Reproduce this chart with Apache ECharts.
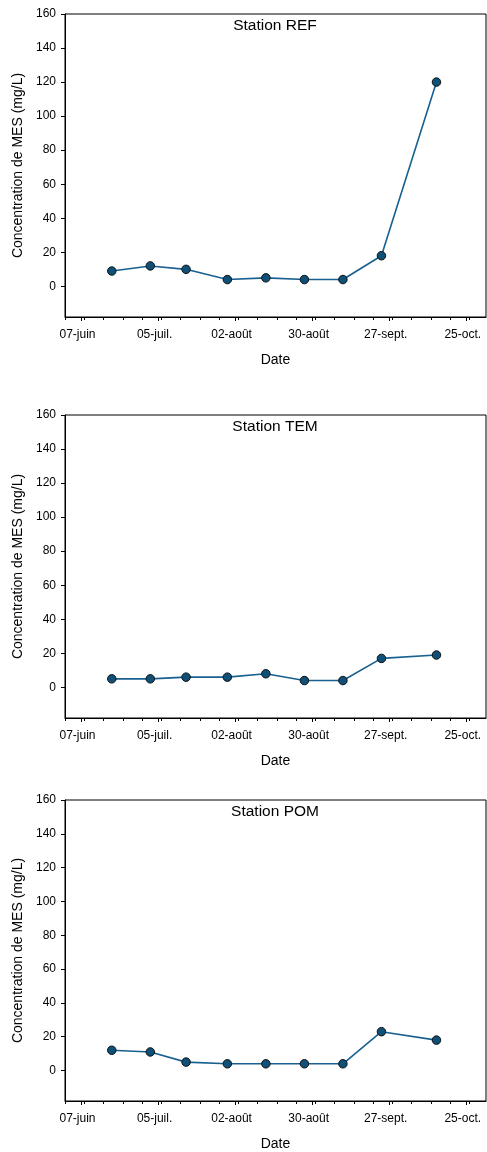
<!DOCTYPE html>
<html>
<head>
<meta charset="utf-8">
<script src="https://cdn.jsdelivr.net/npm/echarts@6/dist/echarts.min.js"></script>
<style>
  html, body { margin: 0; padding: 0; background: #fff; }
  #chart { width: 487px; height: 1152px; }
</style>
</head>
<body>
<div id="chart"></div>
<script>
// Sampling dates (same for every station)
const sampleDates = ['2021-06-18', '2021-07-02', '2021-07-15', '2021-07-30', '2021-08-13',
                     '2021-08-27', '2021-09-10', '2021-09-24', '2021-10-14'];

// Suspended solids (MES) concentration, mg/L
const stationNames = ['Station REF', 'Station TEM', 'Station POM'];
const mesREF = [9, 12, 10, 4, 5, 4, 4, 18, 120];
const mesTEM = [5, 5, 6, 6, 8, 4, 4, 17, 19];
const mesPOM = [12, 11, 5, 4, 4, 4, 4, 23, 18];

// Axis ticks and labels
const xTickDates = ['2021-06-07', '2021-07-05', '2021-08-02', '2021-08-30', '2021-09-27', '2021-10-25'];
const xTickLabels = ['07-juin', '05-juil.', '02-août', '30-août', '27-sept.', '25-oct.'];
const yTicks = [0, 20, 40, 60, 80, 100, 120, 140, 160];
const xStart = '2021-06-01';
const xEnd = '2021-11-01';
const yMin = -18, yMax = 160;

const DAY = 86400000;
const ts = s => { const [y, m, d] = s.split('-').map(Number); return Date.UTC(y, m - 1, d); };
const xMin = ts(xStart), xMax = ts(xEnd);
const majorTicks = xTickDates.map(ts);
const labelByTs = {};
majorTicks.forEach((t, i) => { labelByTs[t] = xTickLabels[i]; });
const weeklyTicks = [];
for (let t = xMin; t <= xMax; t += 7 * DAY) weeklyTicks.push(t);

const seriesValues = [mesREF, mesTEM, mesPOM];
const FONT = "'Liberation Sans', Arial, sans-serif";
const gridTops = [14, 415, 800];
const plotH = 303;

const grids = [], xAxes = [], yAxes = [], series = [], titles = [];
gridTops.forEach((top, i) => {
  grids.push({
    left: 65, right: 1, top: top, height: plotH,
    show: true, borderColor: '#000', borderWidth: 1, backgroundColor: 'transparent'
  });
  // main date axis: 4-week ticks with labels
  xAxes.push({
    type: 'value', gridIndex: i, position: 'bottom', min: xMin, max: xMax,
    name: 'Date', nameLocation: 'middle', nameGap: 36,
    nameTextStyle: { fontFamily: FONT, fontSize: 14, color: '#000' },
    axisLine: { show: true, onZero: false, lineStyle: { color: '#000', width: 1 } },
    axisTick: { show: true, inside: false, length: 4, customValues: majorTicks,
                lineStyle: { color: '#000', width: 1 } },
    axisLabel: { show: true, customValues: majorTicks, margin: 12, padding: [0, 8, 0, 0],
                 fontFamily: FONT, fontSize: 12, color: '#000',
                 formatter: v => labelByTs[v] || '' },
    splitLine: { show: false }
  });
  // weekly minor ticks
  xAxes.push({
    type: 'value', gridIndex: i, position: 'bottom', min: xMin, max: xMax,
    axisLine: { show: false, onZero: false },
    axisTick: { show: true, inside: false, length: 3, customValues: weeklyTicks,
                lineStyle: { color: '#000', width: 1 } },
    axisLabel: { show: false },
    splitLine: { show: false }
  });
  yAxes.push({
    type: 'value', gridIndex: i, min: yMin, max: yMax,
    name: 'Concentration de MES (mg/L)', nameLocation: 'middle', nameGap: 40,
    nameTextStyle: { fontFamily: FONT, fontSize: 14, color: '#000' },
    axisLine: { show: true, onZero: false, lineStyle: { color: '#000', width: 1 } },
    axisTick: { show: true, inside: false, length: 4, customValues: yTicks,
                lineStyle: { color: '#000', width: 1 } },
    axisLabel: { show: true, customValues: yTicks, margin: 9,
                 fontFamily: FONT, fontSize: 12, color: '#000' },
    splitLine: { show: false }
  });
  series.push({
    type: 'line', xAxisIndex: i * 2, yAxisIndex: i,
    data: sampleDates.map((d, k) => [ts(d), seriesValues[i][k]]),
    symbol: 'circle', symbolSize: 8.5,
    lineStyle: { color: '#17608f', width: 1.6 },
    itemStyle: { color: '#0e5078', borderColor: '#111', borderWidth: 1 },
    emphasis: { disabled: true },
    animation: false, z: 3
  });
  titles.push({
    text: stationNames[i], left: 270, top: top - 1, textAlign: 'center',
    textStyle: { fontFamily: FONT, fontSize: 15.5, fontWeight: 'normal', color: '#000' }
  });
});

const chart = echarts.init(document.getElementById('chart'), null, { renderer: 'canvas' });
chart.setOption({
  backgroundColor: '#fff',
  animation: false,
  title: titles,
  grid: grids,
  xAxis: xAxes,
  yAxis: yAxes,
  series: series
});
</script>
</body>
</html>
